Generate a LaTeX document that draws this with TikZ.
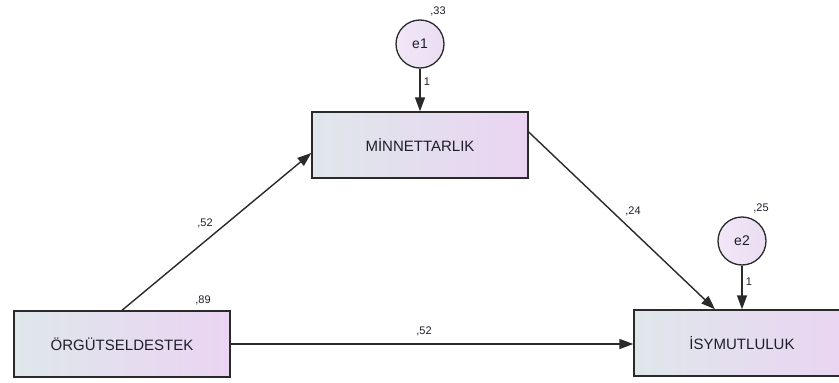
\documentclass[tikz,border=0pt]{standalone}
\usepackage{fontspec}
\setmainfont{Liberation Sans}
\usetikzlibrary{arrows.meta,shapes.geometric}

\definecolor{boxleft}{HTML}{DFE7EB}
\definecolor{boxright}{HTML}{EAD4F2}
\definecolor{circfill}{HTML}{EBDDF3}
\definecolor{edgecol}{HTML}{2A2A2A}
\definecolor{txtcol}{HTML}{1E1E2A}

\tikzset{
  varbox/.style={rectangle, draw=edgecol, line width=1.4pt,
    left color=boxleft, right color=boxright,
    minimum width=216pt, minimum height=66pt, inner sep=0pt,
    font=\fontsize{15}{17}\selectfont, text=txtcol},
  errcirc/.style={circle, draw=edgecol, line width=1.3pt,
    left color=circfill!70!white, right color=circfill,
    minimum size=48pt, inner sep=0pt,
    font=\fontsize{14}{16}\selectfont, text=txtcol},
  coef/.style={inner sep=0pt, font=\fontsize{11}{13}\selectfont, text=txtcol},
  path/.style={draw=edgecol, line width=1.4pt,
    -{Triangle[length=14pt,width=10pt]}}
}

\begin{document}
\begin{tikzpicture}[x=1pt,y=-1pt]
  \useasboundingbox (0,0) rectangle (839,383);
  \clip (0,0) rectangle (839,383);
  \fill[white] (0,0) rectangle (839,383);

  % observed variables
  \node[varbox] (minn) at (420,145) {MİNNETTARLIK};
  \node[varbox] (org)  at (122,344) {ÖRGÜTSELDESTEK};
  \node[varbox] (isym) at (742,343) {İSYMUTLULUK};

  % error terms
  \node[errcirc] (e1) at (420,44) {e1};
  \node[errcirc] (e2) at (742,241) {e2};

  % regression paths
  \draw[path] (e1) -- (minn.north);
  \draw[path] (e2) -- (isym.north);
  \draw[path] (org.north) -- ([yshift=-8pt]minn.west);
  \draw[path] ([yshift=13pt]minn.east) -- ([xshift=-27pt]isym.north);
  \draw[path] (org.east) -- (org.east -| isym.west);

  % estimates
  \node[coef] (v33) at (438,11) {,33};
  \node[coef] (w1)  at (427,82) {1};
  \node[coef] (v89) at (203,300) {,89};
  \node[coef] (b1)  at (205,223) {,52};
  \node[coef] (b2)  at (424,331) {,52};
  \node[coef] (b3)  at (633,211) {,24};
  \node[coef] (v25) at (761,208) {,25};
  \node[coef] (w2)  at (749,282) {1};
\end{tikzpicture}
\end{document}
